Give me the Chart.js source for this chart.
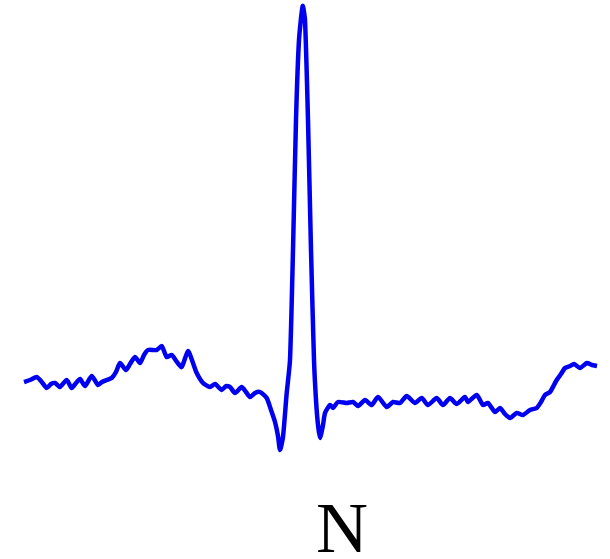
<!DOCTYPE html>
<html>
<head>
<meta charset="utf-8">
<script src="https://cdn.jsdelivr.net/npm/chart.js@4"></script>
<style>
    html, body { margin: 0; padding: 0; background: #fff; }
    #wrap { position: relative; width: 610px; height: 559px; }
    #beat { position: absolute; left: 0; top: 0; }
    #label {
        position: absolute; left: 0; width: 684px; top: 492px;
        text-align: center; font-family: 'Liberation Serif', serif;
        font-size: 72px; line-height: 72px; color: #000;
    }
</style>
</head>
<body>
<div id="wrap">
    <canvas id="beat" width="610" height="470"></canvas>
    <div id="label">N</div>
</div>
<script>
// Single heartbeat, class label N
// sample positions (samples from start of window)
const samples = [
    0, 6, 12.7, 17, 22.7, 27, 31, 36, 42.7, 47.7, 52, 56, 61, 67.7, 74, 78, 82.7, 87.7, 92, 96,
    102, 106, 111, 116, 120, 124, 132.7, 137.7, 142.7, 147.7, 153, 157.7, 164, 169, 172.7, 179, 186,
    191, 197.7, 202, 206, 211, 217.7, 222, 226, 231, 236, 242.7, 247, 251, 254, 256, 259, 262.7, 266,
    269, 272, 275, 278.7, 281, 284, 287, 290, 292, 294, 296, 299, 301, 306, 309, 314, 322.7, 329,
    334, 341, 347.7, 354, 362.7, 369, 376, 382.7, 391, 397.7, 404, 412.7, 419, 426, 432.7, 441, 444,
    452.7, 459, 464, 471, 476, 481, 486, 492.7, 499, 506, 512.7, 517, 521, 526, 532.7, 537, 541, 546,
    550, 556, 563, 568, 573
];
// amplitude (mV, approx.)
const amplitude = [
    0.18, 0.20, 0.23, 0.19, 0.12, 0.16, 0.17, 0.13, 0.20, 0.12, 0.17, 0.21, 0.14, 0.24, 0.15, 0.18,
    0.20, 0.22, 0.28, 0.37, 0.30, 0.36, 0.43, 0.37, 0.45, 0.50, 0.50, 0.54, 0.43, 0.45, 0.38, 0.33,
    0.49, 0.37, 0.27, 0.17, 0.13, 0.16, 0.10, 0.14, 0.13, 0.07, 0.13, 0.08, 0.03, 0.07, 0.08, 0.02,
    -0.10, -0.22, -0.36, -0.50, -0.37, 0.07, 0.40, 1.50, 2.80, 3.60, 3.94, 3.80, 2.80, 1.50, 0.40,
    0.00, -0.25, -0.38, -0.25, -0.13, -0.05, -0.08, -0.02, -0.03, -0.02, -0.06, 0.00, -0.05, 0.03,
    -0.07, -0.02, -0.03, 0.04, -0.03, 0.02, -0.05, 0.02, -0.05, 0.02, -0.04, 0.03, -0.02, 0.05,
    -0.05, -0.03, -0.12, -0.08, -0.14, -0.18, -0.13, -0.15, -0.10, -0.08, -0.02, 0.05, 0.08, 0.20,
    0.26, 0.32, 0.34, 0.36, 0.32, 0.37, 0.35, 0.34
];

const points = samples.map((t, i) => ({ x: t, y: amplitude[i] }));

new Chart(document.getElementById('beat'), {
    type: 'line',
    data: {
        datasets: [{
            data: points,
            borderColor: '#0000f0',
            borderWidth: 4.5,
            pointRadius: 0,
            tension: 0.2,
            fill: false
        }]
    },
    options: {
        responsive: false,
        animation: false,
        layout: { padding: 0 },
        plugins: { legend: { display: false }, tooltip: { enabled: false } },
        scales: {
            x: { type: 'linear', min: -24, max: 586, display: false },
            y: { min: -0.7, max: 4.0, display: false }
        }
    }
});
</script>
</body>
</html>
